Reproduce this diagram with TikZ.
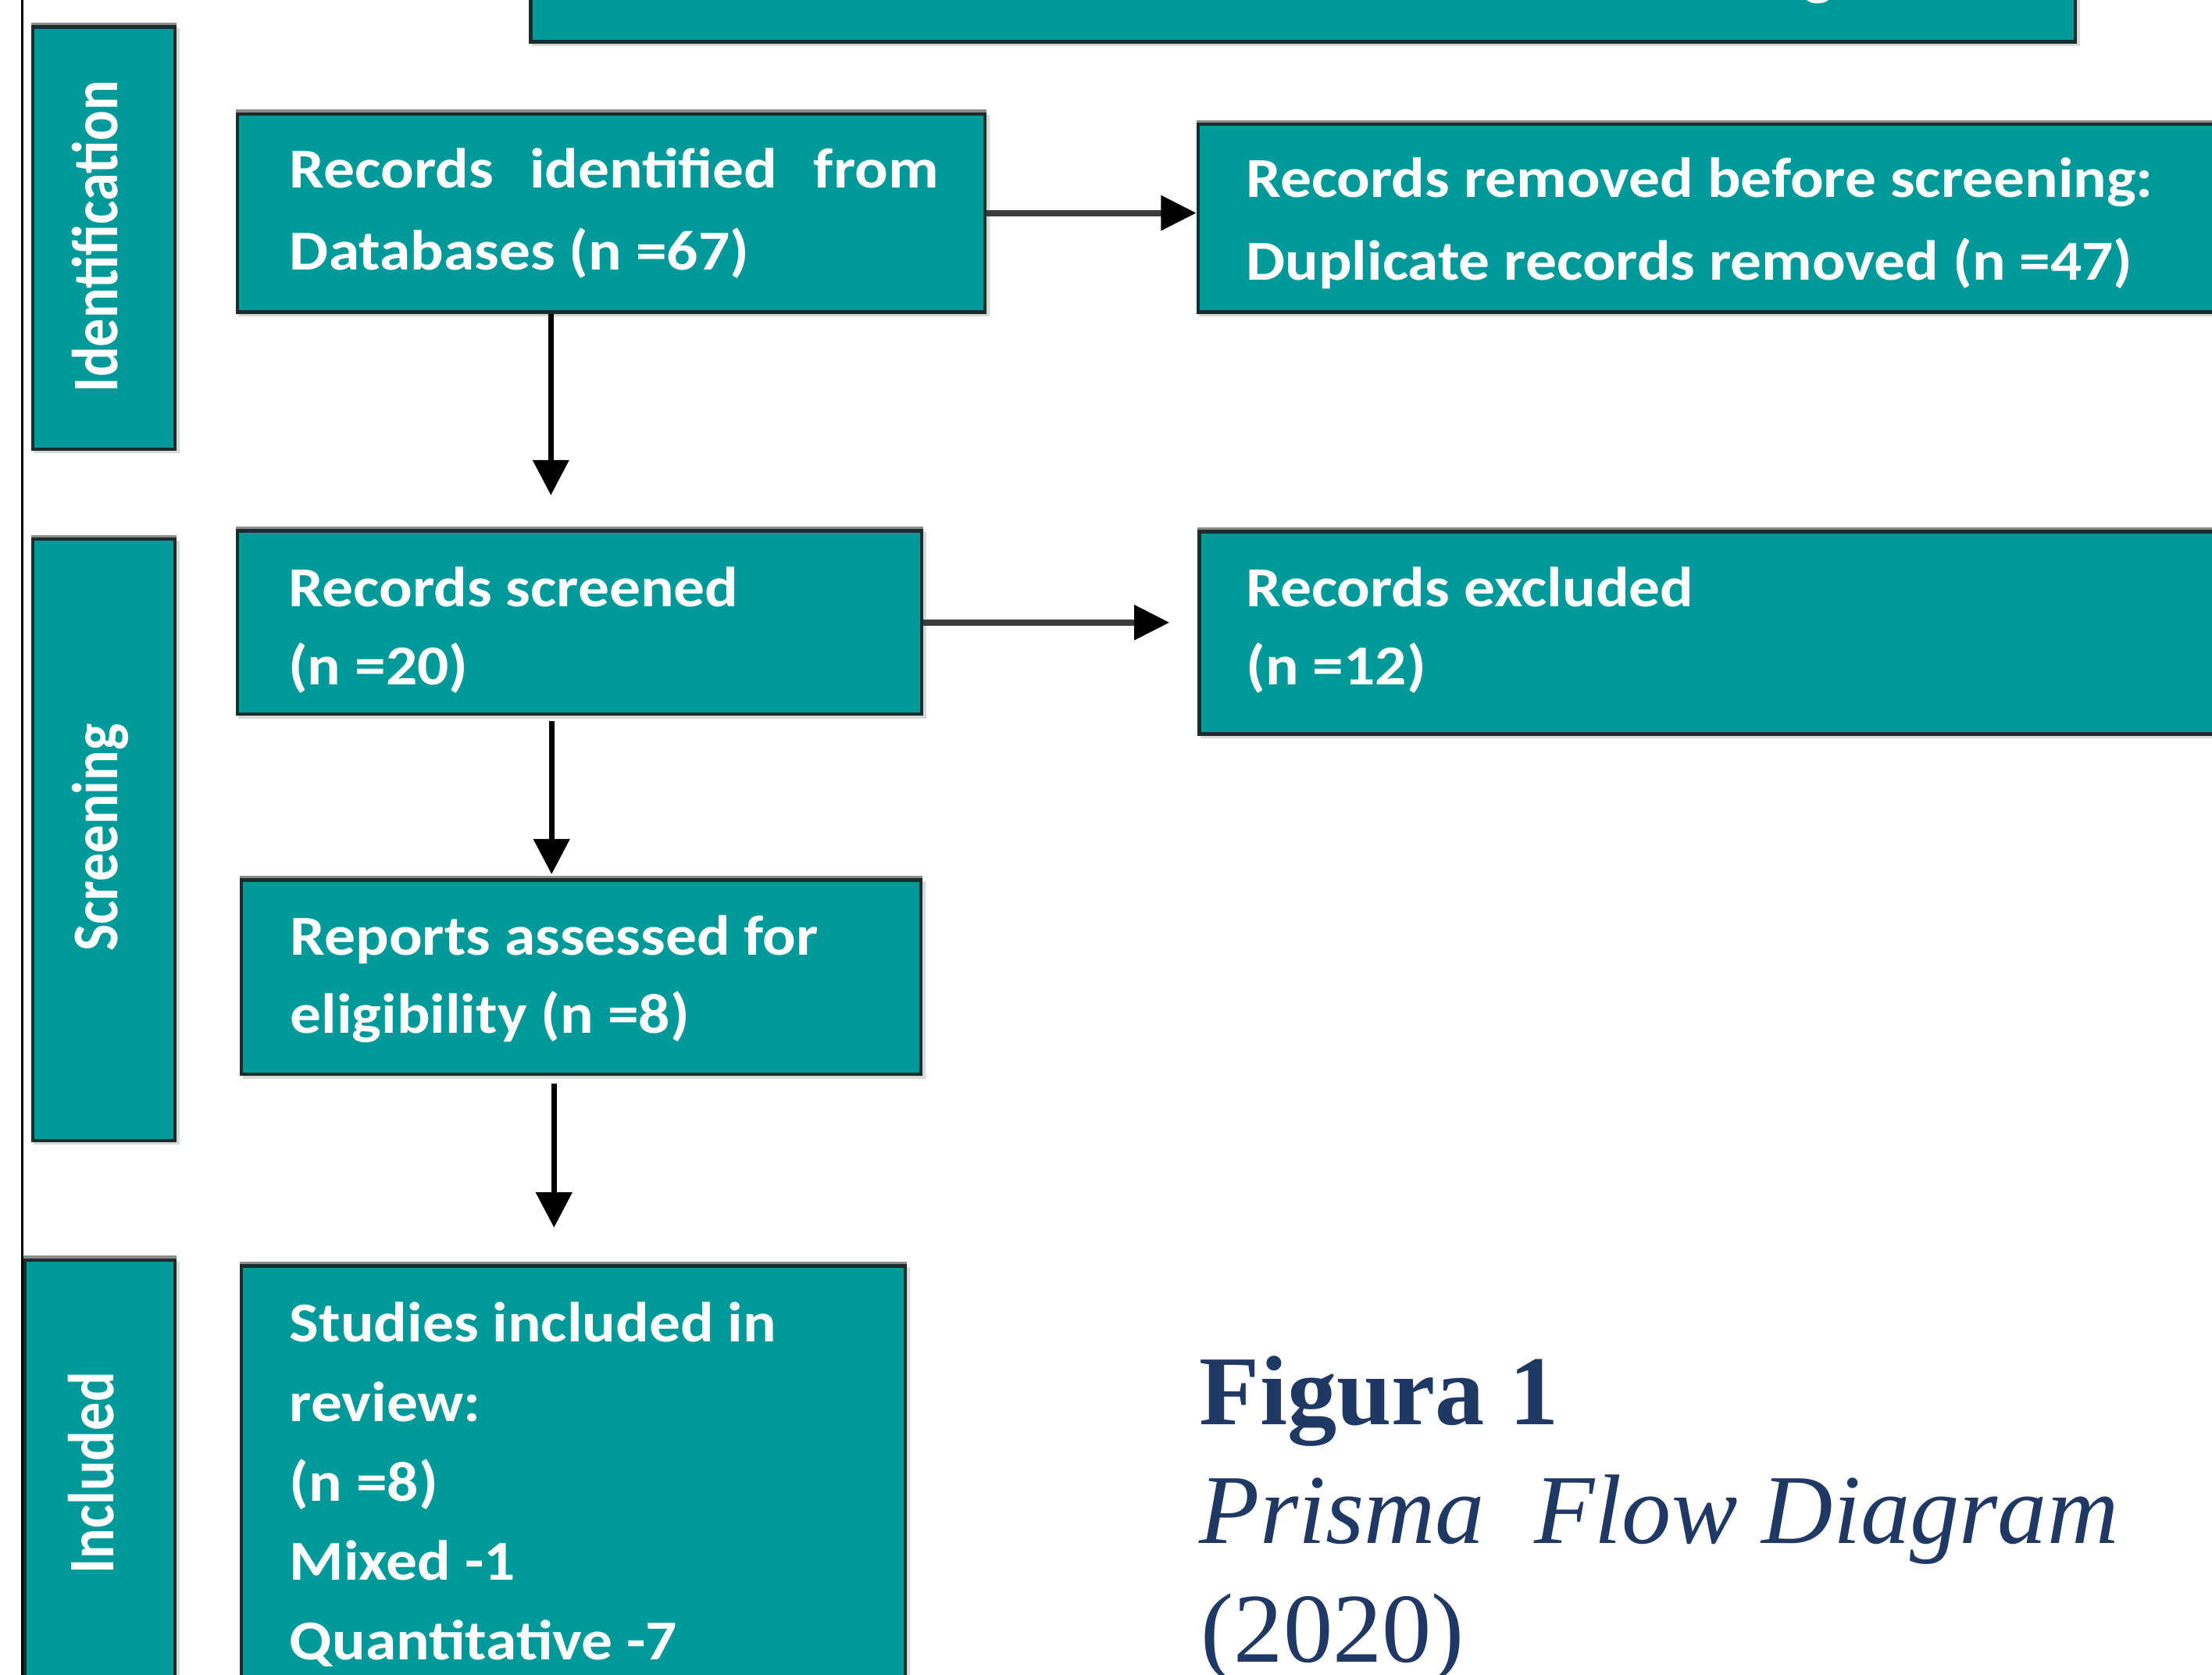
\documentclass[tikz,border=0pt]{standalone}
\usepackage{fontspec}
\usepackage{graphicx}
\usetikzlibrary{arrows.meta,calc}
\newfontfamily\calfont{Carlito}[FakeStretch=1.1]
\newfontfamily\calplain{Carlito}
\newfontfamily\capfont{Liberation Serif}
\definecolor{tealfill}{RGB}{0,153,153}
\definecolor{edgedark}{RGB}{26,44,44}
\definecolor{navy}{RGB}{32,56,100}
\definecolor{arrgray}{RGB}{60,60,60}
\begin{document}
\begin{tikzpicture}[x=0.5pt,y=-0.5pt,
  box/.style={rectangle, draw=edgedark, line width=1.2pt, fill=tealfill, inner sep=0pt, anchor=north west,
    preaction={draw=black!45, line width=1.2pt, transform canvas={yshift=1pt}},
    preaction={draw=black!15, line width=1.2pt, transform canvas={xshift=1pt,yshift=-1pt}}},
  txt/.style={text=white, inner sep=0pt, anchor=base west, font=\calfont\bfseries\fontsize{20pt}{#1}\selectfont},
  sidetxt/.style={text=white, inner sep=0pt, anchor=base, rotate=90, font=\calplain\bfseries\fontsize{20pt}{24pt}\selectfont},
  captxt/.style={text=navy, inner sep=0pt, anchor=base west, font=\capfont\fontsize{35pt}{40pt}\selectfont},
  arrv/.style={line width=2pt, draw=black, -{Triangle[length=12.5pt,width=12.5pt]}},
  arrh/.style={line width=2.2pt, draw=arrgray, -{Triangle[length=12.5pt,width=12pt,color=black]}}]
\useasboundingbox (0,0) rectangle (1568,1187);
\fill[white] (0,0) rectangle (1568,1187);
\clip (0,0) rectangle (1568,1187);

% left rule
\draw[line width=0.85pt, black] (16,-5) -- (16,1200);

% banner (cut at top)
\node[box, minimum width=547.5pt, minimum height=24.25pt] (banner) at (375,-20) {};
\begin{scope}
  \clip (376,-20) rectangle (1469,27);
  \node[text=white, inner sep=0pt, anchor=south, font=\calfont\bfseries\fontsize{20pt}{24pt}\selectfont] (bannerg) at (1289,3) {g};
\end{scope}

% phase boxes
\node[box, minimum width=50.5pt, minimum height=149.5pt] (sideI) at (22,18) {};
\node[box, minimum width=50.5pt, minimum height=213pt] (sideS) at (22,381) {};
\node[box, minimum width=53.25pt, minimum height=160pt] (sideN) at (16.5,892) {};
\node[sidetxt] (sideIt) at (83.4,167.5) {\scalebox{1}[1.15]{Identification}};
\node[sidetxt] (sideSt) at (83.4,593.5) {\scalebox{1}[1.15]{Screening}};
\node[sidetxt] (sideNt) at (80.3,1044) {\scalebox{1}[1.15]{Included}};

% flow boxes
\node[box, minimum width=265pt, minimum height=70.25pt] (A) at (167,79.5) {};
\node[box, minimum width=400pt, minimum height=66.5pt] (B) at (848,87) {};
\node[box, minimum width=242.5pt, minimum height=65pt] (C) at (167,375) {};
\node[box, minimum width=400pt, minimum height=71.75pt] (D) at (849,375.5) {};
\node[box, minimum width=240.75pt, minimum height=68.75pt] (E) at (170,622.6) {};
\node[box, minimum width=235.3pt, minimum height=160pt] (F) at (170,896) {};

\node[txt=29.15pt] (At) at (205,133.2) {\begin{tabular}[t]{@{}l@{}}\makebox[230pt][s]{Records identified from}\\Databases (n =67)\end{tabular}};
\node[txt=29.25pt] (Bt) at (883,140) {\begin{tabular}[t]{@{}l@{}}Records removed before screening:\\Duplicate records removed (n =47)\end{tabular}};
\node[txt=27.85pt] (Ct) at (204,429.7) {\begin{tabular}[t]{@{}l@{}}Records screened\\(n =20)\end{tabular}};
\node[txt=27.85pt] (Dt) at (883,429.7) {\begin{tabular}[t]{@{}l@{}}Records excluded\\(n =12)\end{tabular}};
\node[txt=27.65pt] (Et) at (205.5,676.7) {\begin{tabular}[t]{@{}l@{}}Reports assessed for\\eligibility (n =8)\end{tabular}};
\node[txt=28.2pt] (Ft) at (205,950.8) {\begin{tabular}[t]{@{}l@{}}Studies included in\\review:\\(n =8)\\Mixed -1\\Quantitative -7\end{tabular}};

% connectors
\coordinate (ab) at (390.5,351);
\draw[arrv] (A.south -| ab) -- (ab);
\draw[arrh] (A.east) -- (A.east -| B.west);
\draw[arrh, shorten >=10pt] (C.east) -- (C.east -| D.west);
\coordinate (ce) at (391,511);
\draw[arrv, shorten >=1.5pt] (ce) -- (ce |- E.north);
\coordinate (ef1) at (392.7,768);
\coordinate (ef2) at (392.7,870);
\draw[arrv] (ef1) -- (ef2);

% caption
\node[captxt] (cap1) at (850,1009.6) {\bfseries Figura 1};
\node[captxt] (cap2) at (850,1094) {\itshape Prisma\ \ Flow Diagram};
\node[captxt] (cap3) at (851,1178) {(2020)};
\end{tikzpicture}
\end{document}
